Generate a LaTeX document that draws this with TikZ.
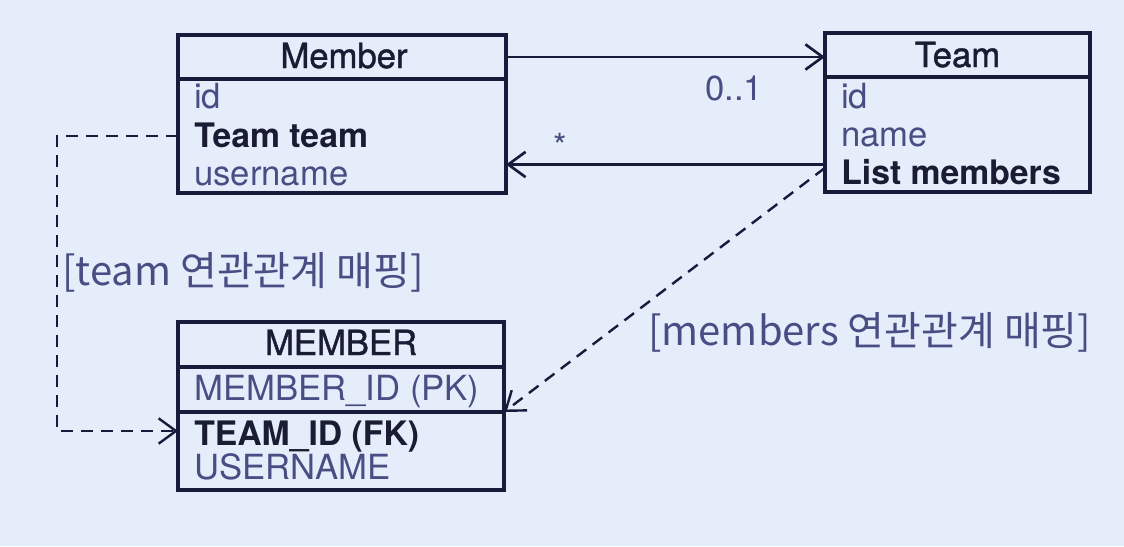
\documentclass[tikz,border=0pt]{standalone}
\usepackage{fontspec}
\setmainfont{TeX Gyre Heros}
\newfontfamily\headfont[FakeBold=1.2]{TeX Gyre Heros}
\newfontfamily\kor{Noto Sans CJK KR}
\usetikzlibrary{arrows.meta}
\definecolor{mybg}{RGB}{230, 237, 250}
\definecolor{myline}{RGB}{24, 28, 58}
\definecolor{mydark}{RGB}{26, 28, 52}
\definecolor{mylight}{RGB}{72, 78, 132}
\tikzstyle{box} = [draw=myline, line width=2.4pt, inner sep=0, outer sep=0]
\tikzstyle{header} = [font=\headfont\fontsize{26}{30}\selectfont, text=mydark,
    anchor=base, inner sep=0]
\tikzstyle{field} = [font=\fontsize{26}{30}\selectfont, text=mylight,
    anchor=base west, inner sep=0]
\tikzstyle{boldfield} = [field, font=\fontsize{25.3}{30}\selectfont\bfseries, text=mydark]
\tikzstyle{maplabel} = [font=\kor\fontsize{30}{34}\selectfont, text=mylight,
    anchor=base west, inner sep=0]
\tikzstyle{assoc} = [draw=myline, line width=2pt, ->]
\tikzstyle{mapline} = [draw=myline, line width=1.8pt, dash pattern=on 9pt off 6pt, ->]

\begin{document}
\begin{tikzpicture}[x=0.75pt, y=-0.75pt, >={Straight Barb[length=13pt, width=19pt]}]

\fill[mybg] (0,0) rectangle (1124,546);

%%% object model
\node[box, minimum width=246pt, minimum height=33pt] (memhead) at (342,57) {};
\node[box, minimum width=246pt, minimum height=85.5pt] (membody) at (342,136) {};
\node[header] (memname) at (344,68) {Member};
\node[field] (memid) at (194,108) {id};
\node[boldfield] (memteam) at (194,147) {Team team};
\node[field] (memuser) at (194,185) {username};

\node[box, minimum width=198.75pt, minimum height=33pt] (teamhead) at (957.5,55) {};
\node[box, minimum width=198.75pt, minimum height=86.25pt] (teambody) at (957.5,134.5) {};
\node[header] (teamname) at (957.5,67) {Team};
\node[field] (teamid) at (841,108) {id};
\node[field] (teamnm) at (841,146) {name};
\node[boldfield] (teamlist) at (841,184) {List members};

%%% table
\node[box, minimum width=244.5pt, minimum height=33.75pt] (tabhead) at (341,344.5) {};
\node[box, minimum width=244.5pt, minimum height=33.75pt] (pk) at (341,389.5) {};
\node[box, minimum width=244.5pt, minimum height=58.5pt] (tabbody) at (341,451) {};
\node[header] (tabname) at (341,355) {MEMBER};
\node[field] (pkname) at (194,400) {MEMBER\_ID (PK)};
\node[boldfield] (fkname) at (194,445) {TEAM\_ID (FK)};
\node[field] (tabuser) at (194,479) {USERNAME};

%%% associations
\draw[assoc] (memhead.east) -- (memhead.east -| teamhead.west);
\node[field] (one) at (705,100) {0..1};
\draw[assoc] ([yshift=-22.5pt]teambody.west) coordinate (back) -- (back -| membody.east);
\node[field] (many) at (553,158) {*};

%%% mapping
\coordinate (bend) at (57,136);
\draw[mapline] (membody.west) -- (bend) |- ([yshift=15pt]tabbody.west);
\draw[mapline] ([yshift=-25pt]teambody.west) -- (pk.south east);

\node[maplabel] (teammap) at (62,285) {[team 연관관계 매핑]};
\node[maplabel] (membersmap) at (648,345) {[members 연관관계 매핑]};

\end{tikzpicture}
\end{document}
